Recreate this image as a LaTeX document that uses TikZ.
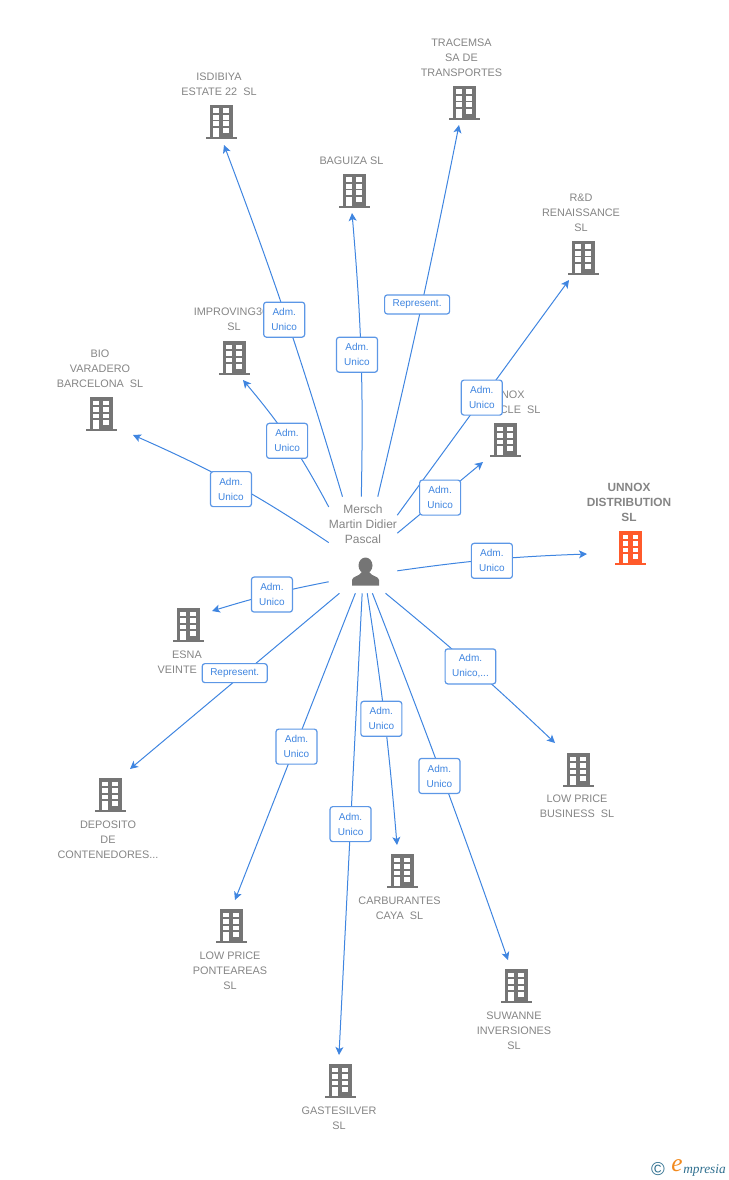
\documentclass[tikz,border=0pt]{standalone}
\usepackage{fontspec}
\usetikzlibrary{arrows.meta}
\setmainfont{Liberation Sans}
\newfontfamily\logofont{Liberation Serif}
\definecolor{linkblue}{HTML}{3F85E0}
\definecolor{badgeblue}{HTML}{5C97E6}
\definecolor{iconfill}{HTML}{757575}
\definecolor{targetfill}{HTML}{FF5A2B}
\definecolor{labelgray}{HTML}{858585}
\definecolor{logoteal}{HTML}{2F6F8F}
\definecolor{logoorange}{HTML}{F28A1E}
\tikzset{
  companylabel/.style={align=center,inner sep=0pt,text=labelgray,font=\fontsize{8.15}{11.25}\selectfont},
  targetlabel/.style={companylabel,font=\fontsize{8.9}{11.25}\selectfont\bfseries},
  personlabel/.style={companylabel,font=\fontsize{9}{11.25}\selectfont},
  personbox/.style={inner sep=0pt,minimum width=51pt,minimum height=72pt},
  connector/.style={-{Stealth[length=6pt,width=6pt,inset=1.5pt]},linkblue,line width=.75pt},
  badge/.style={draw=badgeblue,fill=white,line width=.9pt,rounded corners=2pt,inner sep=0pt,align=center,
    minimum width=30.75pt,minimum height=26.25pt,text=linkblue,font=\fontsize{7.5}{11.25}\selectfont},
  widebadge/.style={badge,minimum width=48.75pt,minimum height=14.25pt},
  pics/buildingicon/.style={code={
    \fill[#1] (-11.5,-17) rectangle (11.5,16);
    \fill[#1] (-15.5,15) rectangle (15.5,17);
    \foreach \wy in {-13.5,-7,-0.5}{
      \fill[white] (-7.7,\wy) rectangle (-2.3,\wy+4.7);
      \fill[white] (2.3,\wy) rectangle (7.7,\wy+4.7);
    }
    \fill[white] (2.3,6) rectangle (7.7,10.7);
    \fill[white] (-7.7,6) rectangle (-2.3,15);
  }},
  pics/personicon/.style={code={
    \fill[iconfill] (0,-6.5) ellipse (7 and 8);
    \fill[iconfill] (-13.5,13.5) -- (-13.5,8) .. controls (-13,4) and (-7,5) .. (-3.5,0)
      -- (3.5,0) .. controls (7,5) and (13,4) .. (13.5,8) -- (13.5,13.5) -- cycle;
  }}
}
\begin{document}
\begin{tikzpicture}[x=.75pt,y=-.75pt]
  \useasboundingbox (0,0) rectangle (728,1180);

  \node[companylabel] (isdibiyalabel) at (219,84.5) {ISDIBIYA\\ESTATE 22~~SL};
  \node[companylabel] (tracemsalabel) at (461.5,58) {TRACEMSA\\SA DE\\TRANSPORTES};
  \node[companylabel] (baguizalabel) at (351.5,161) {BAGUIZA SL};
  \node[companylabel] (renaissancelabel) at (581,213) {R\&D\\RENAISSANCE\\SL};
  \node[companylabel] (improvinglabel) at (234,319.5) {IMPROVING360\\SL};
  \node[companylabel] (biolabel) at (100,369) {BIO\\VARADERO\\BARCELONA~~SL};
  \node[companylabel] (recyclelabel) at (505,402.5) {UNNOX\\RECYCLE~~SL};
  \node[targetlabel] (distributionlabel) at (629,502) {UNNOX\\DISTRIBUTION\\SL};
  \node[companylabel] (esnalabel) at (187,662.5) {ESNA\\VEINTE~~SL};
  \node[companylabel] (depositolabel) at (108,840) {DEPOSITO\\DE\\CONTENEDORES...};
  \node[companylabel] (businesslabel) at (577,806.5) {LOW PRICE\\BUSINESS~~SL};
  \node[companylabel] (carburanteslabel) at (399.5,908.5) {CARBURANTES\\CAYA~~SL};
  \node[companylabel] (ponteareaslabel) at (230,971) {LOW PRICE\\PONTEAREAS\\SL};
  \node[companylabel] (suwannelabel) at (514,1031) {SUWANNE\\INVERSIONES\\SL};
  \node[companylabel] (gastesilverlabel) at (339,1118.5) {GASTESILVER\\SL};

  \pic (isdibiya) at (221,122) {buildingicon=iconfill};
  \pic (tracemsa) at (464,103) {buildingicon=iconfill};
  \pic (baguiza) at (354,191) {buildingicon=iconfill};
  \pic (renaissance) at (583,258) {buildingicon=iconfill};
  \pic (improving) at (234,358) {buildingicon=iconfill};
  \pic (bio) at (101,414) {buildingicon=iconfill};
  \pic (recycle) at (505,440) {buildingicon=iconfill};
  \pic (distribution) at (630.5,548) {buildingicon=targetfill};
  \pic (esna) at (188,625) {buildingicon=iconfill};
  \pic (deposito) at (110,795) {buildingicon=iconfill};
  \pic (business) at (578,770) {buildingicon=iconfill};
  \pic (carburantes) at (402,871) {buildingicon=iconfill};
  \pic (pontareas) at (231,926) {buildingicon=iconfill};
  \pic (suwanne) at (516,986) {buildingicon=iconfill};
  \pic (gastesilver) at (340,1081) {buildingicon=iconfill};

  \node[personbox] (person) at (363,545) {};
  \node[personlabel] (personlabel) at (363,524) {Mersch\\Martin Didier\\Pascal};
  \pic (personmark) at (365.5,572) {personicon};

  \coordinate (isdibiyatip) at (224,145);
  \coordinate (tracemsatip) at (459,125);
  \coordinate (baguizatip) at (352,213);
  \coordinate (renaissancetip) at (569,280);
  \coordinate (improvingtip) at (243,380);
  \coordinate (biotip) at (133,435);
  \coordinate (recycletip) at (483,462);
  \coordinate (distributiontip) at (587,554);
  \coordinate (esnatip) at (212,611);
  \coordinate (depositotip) at (130,769);
  \coordinate (businesstip) at (555,743);
  \coordinate (carburantestip) at (397,845);
  \coordinate (ponteareastip) at (235,900);
  \coordinate (suwannetip) at (508,960);
  \coordinate (gastesilvertip) at (339,1055);

  \path[connector]
    (person.113.6) edge [bend right=2] node [badge,xshift=-2pt] {Adm.\\Unico} (isdibiyatip)
    (person.92.4) edge [bend right=3] node [badge,xshift=-3pt] {Adm.\\Unico} (baguizatip)
    (person.73.7) edge [bend right=1] node [widebadge,pos=.52,xshift=-3.5pt] {Represent.} (tracemsatip)
    (person.41.4) edge node [badge,xshift=-1pt] {Adm.\\Unico} (renaissancetip)
    (person.19.4) edge node [badge] {Adm.\\Unico} (recycletip)
    (person.-37.4) edge [bend left=3] node [badge,yshift=-1pt] {Adm.\\Unico} (distributiontip)
    (person.-65.4) edge [bend left=2] node [badge,minimum width=38pt,xshift=-1pt] {Adm.\\Unico,...} (businesstip)
    (person.-79.4) edge [bend left=1] node [badge,xshift=-2pt] {Adm.\\Unico} (suwannetip)
    (person.-85.2) edge [bend left=2] node [badge,xshift=-2.5pt] {Adm.\\Unico} (carburantestip)
    (person.-91.2) edge node [badge] {Adm.\\Unico} (gastesilvertip)
    (person.-99.5) edge node [badge,xshift=1pt] {Adm.\\Unico} (ponteareastip)
    (person.-116) edge node [widebadge,yshift=6pt] {Represent.} (depositotip)
    (person.227.4) edge [bend right=3] node [badge,xshift=1.5pt] {Adm.\\Unico} (esnatip)
    (person.176.6) edge [bend right=5] node [badge,xshift=-2pt,yshift=-4pt] {Adm.\\Unico} (biotip)
    (person.132.6) edge [bend right=6] node [badge,xshift=-2pt] {Adm.\\Unico} (improvingtip);

  \node[inner sep=0pt,text=logoteal,font=\fontsize{14}{14}\selectfont] (logomark) at (658,1169) {©};
  \node[inner sep=0pt,text=logoorange,font=\logofont\itshape\fontsize{19}{19}\selectfont] (logoe) at (677,1166) {e};
  \node[inner sep=0pt,anchor=west,text=logoteal,font=\logofont\itshape\fontsize{10}{10}\selectfont] (logotext) at (683,1170) {mpresia};
\end{tikzpicture}
\end{document}
